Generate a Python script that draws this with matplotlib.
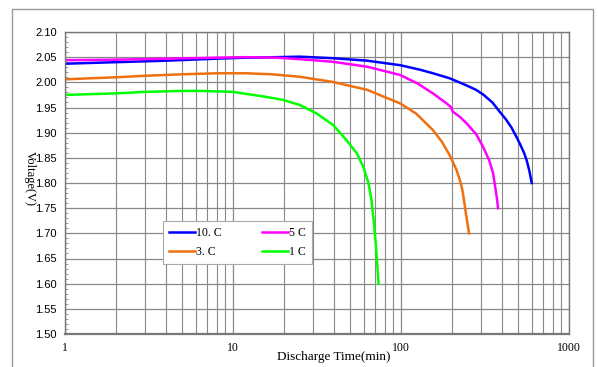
import numpy as np
import matplotlib.pyplot as plt
from matplotlib.ticker import LogLocator, MultipleLocator, FixedLocator, NullFormatter
from matplotlib.patches import Rectangle

# discharge curves: time (min), voltage (V)
t_10c = [1, 2, 4, 8, 12, 18, 25, 39, 63, 99, 130, 155, 195, 245, 280, 308, 350, 386, 420, 455, 486, 515, 540, 560, 580, 600]
v_10c = [2.037, 2.040, 2.043, 2.047, 2.049, 2.050, 2.051, 2.048, 2.043, 2.034, 2.025, 2.018, 2.008, 1.994, 1.985, 1.976, 1.960, 1.942, 1.927, 1.910, 1.892, 1.875, 1.860, 1.845, 1.825, 1.800]

t_5c = [1, 2, 4, 8, 12, 18, 25, 39, 63, 99, 125, 155, 187, 198, 203, 225, 245, 280, 308, 335, 353, 366, 374, 378]
v_5c = [2.044, 2.045, 2.047, 2.049, 2.050, 2.049, 2.046, 2.041, 2.031, 2.0145, 1.998, 1.978, 1.958, 1.951, 1.942, 1.931, 1.919, 1.897, 1.872, 1.845, 1.820, 1.786, 1.765, 1.750]

t_3c = [1, 2, 3, 5, 8, 12, 17, 25, 39, 63, 99, 123, 155, 175, 195, 214, 224, 232, 238, 244, 250, 254]
v_3c = [2.006, 2.010, 2.013, 2.016, 2.018, 2.018, 2.016, 2.011, 2.001, 1.985, 1.958, 1.938, 1.905, 1.882, 1.855, 1.826, 1.806, 1.786, 1.762, 1.737, 1.715, 1.700]

t_1c = [1, 2, 3, 5, 6.35, 10, 15.8, 19.9, 25, 31.5, 39.5, 47.4, 54.6, 59.7, 64, 66.7, 69, 71, 72.5, 73.5]
v_1c = [1.975, 1.978, 1.981, 1.983, 1.983, 1.981, 1.971, 1.965, 1.955, 1.938, 1.915, 1.885, 1.859, 1.832, 1.800, 1.766, 1.720, 1.673, 1.630, 1.600]

labels = ['10. C', '5 C', '3. C', '1 C']
colors = ['#0000ff', '#ff00ff', '#f07010', '#00ff00']

fig = plt.figure(figsize=(5.98, 3.67), dpi=100)
ax = fig.add_axes([65/598, 1 - 334/367, 504/598, 302/367])

l10, = ax.plot(t_10c, v_10c, color=colors[0], lw=1.8, label=labels[0])
l5, = ax.plot(t_5c, v_5c, color=colors[1], lw=1.8, label=labels[1])
l3, = ax.plot(t_3c, v_3c, color=colors[2], lw=1.8, label=labels[2])
l1, = ax.plot(t_1c, v_1c, color=colors[3], lw=1.8, label=labels[3])

ax.set_xscale('log')
ax.set_xlim(1, 1000)
ax.set_ylim(1.50, 2.10)

ax.xaxis.set_major_locator(FixedLocator([1, 10, 100, 1000]))
ax.xaxis.set_minor_locator(LogLocator(base=10, subs=np.arange(2, 10)))
ax.xaxis.set_minor_formatter(NullFormatter())
ax.set_xticklabels(['1', '10', '100', '1000'], family='Liberation Serif', fontsize=8.5)

ax.yaxis.set_minor_locator(MultipleLocator(0.01))
yt = np.arange(1.50, 2.1001, 0.05)
ax.set_yticks(yt)
ax.set_yticklabels(['%.2f' % v for v in yt], family='Liberation Sans', fontsize=8)

ax.tick_params(axis='x', which='both', length=0, pad=6)
ax.tick_params(axis='y', which='major', length=0, pad=6)
ax.tick_params(axis='y', which='minor', direction='in', length=2, color='#888888')

ax.grid(True, which='major', color='#888888', lw=0.9)
ax.grid(True, which='minor', axis='x', color='#888888', lw=0.8)

for s in ax.spines.values():
    s.set_color('#777777')
    s.set_linewidth(1.0)
ax.spines['bottom'].set_linewidth(1.6)

fig.text(334/598, 1 - 357/367, 'Discharge Time(min)', family='Liberation Serif',
         fontsize=9.5, ha='center', va='center')
fig.text(30/598, 1 - 178/367, 'Voltage(V)', rotation=270, family='Liberation Serif',
         fontsize=9, ha='center', va='center')

# two columns, filled row by row as in the picture
leg = ax.legend([l10, l3, l5, l1], [labels[0], labels[2], labels[1], labels[3]],
                ncol=2, loc='lower left', bbox_to_anchor=(0.194, 0.232, 0.296, 0.129),
                mode='expand', handlelength=2.2, handletextpad=0.1,
                borderaxespad=0, fancybox=False, framealpha=1, edgecolor='#aaaaaa',
                prop={'family': 'Liberation Serif', 'size': 8.5}, borderpad=0.5,
                labelspacing=0.6, columnspacing=1.0)
leg.get_frame().set_linewidth(0.8)

fig.patches.append(Rectangle((12/598, -0.01), (593 - 12)/598, 1 - 9/367 + 0.01,
                             transform=fig.transFigure, fill=False,
                             edgecolor='#999999', lw=1.0))

fig.savefig('out.png', dpi=100)
